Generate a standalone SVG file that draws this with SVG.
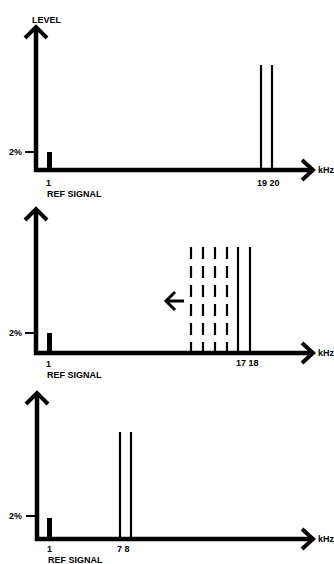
<svg xmlns="http://www.w3.org/2000/svg" width="334" height="564" viewBox="0 0 334 564">
<style>
.ax{stroke:#000;stroke-width:4.5;fill:none;stroke-linecap:butt}
.hd{stroke:#000;stroke-width:4;fill:none;stroke-linejoin:miter;stroke-linecap:butt}
.ln{stroke:#000;stroke-width:2.2;fill:none}
.dl{stroke:#000;stroke-width:2.2;fill:none;stroke-dasharray:12 7}
.tk{stroke:#000;stroke-width:2}
.bar{fill:#000}
text{font-family:"Liberation Sans",Arial,sans-serif;font-size:9px;font-weight:bold;fill:#000}
</style>
<rect width="334" height="564" fill="#fff"/>
<g id="connectors">
  <path class="ax" d="M36 172V28M34 170H313"/>
  <path class="hd" d="M25 38L36 27L47 38"/>
  <path class="hd" d="M302 160L313 170L302 180"/>
  <path class="ax" d="M36 355V210M34 353H313"/>
  <path class="hd" d="M25 220L36 209L47 220"/>
  <path class="hd" d="M302 343L313 353L302 363"/>
  <path class="ax" d="M37 541V394M35 539H313"/>
  <path class="hd" d="M26 404L37 393L48 404"/>
  <path class="hd" d="M302 529L313 539L302 549"/>
  <path class="hd" style="stroke-width:3" d="M175 292L166 301L175 310M166 301H184"/>
</g>
<g id="panel1">
  <text x="32" y="23">LEVEL</text>
  <text x="9" y="155">2%</text>
  <line class="tk" x1="25" y1="152" x2="35" y2="152"/>
  <rect class="bar" x="47" y="152" width="5" height="18"/>
  <text x="46" y="186">1</text>
  <text x="47" y="197">REF SIGNAL</text>
  <line class="ln" x1="261" y1="65" x2="261" y2="170"/>
  <line class="ln" x1="272" y1="65" x2="272" y2="170"/>
  <text x="257" y="186">19 20</text>
  <text x="318" y="173">kHz</text>
</g>
<g id="panel2">
  <text x="9" y="336">2%</text>
  <line class="tk" x1="25" y1="333" x2="35" y2="333"/>
  <rect class="bar" x="47" y="333" width="5" height="20"/>
  <text x="46" y="367">1</text>
  <text x="47" y="378">REF SIGNAL</text>
  <line class="dl" x1="191" y1="247" x2="191" y2="353"/>
  <line class="dl" x1="203" y1="247" x2="203" y2="353"/>
  <line class="dl" x1="215" y1="247" x2="215" y2="353"/>
  <line class="dl" x1="227" y1="247" x2="227" y2="353"/>
  <line class="ln" x1="238" y1="247" x2="238" y2="353"/>
  <line class="ln" x1="250" y1="247" x2="250" y2="353"/>
  <text x="236" y="366">17 18</text>
  <text x="318" y="356">kHz</text>
</g>
<g id="panel3">
  <text x="9" y="519">2%</text>
  <line class="tk" x1="26" y1="516" x2="36" y2="516"/>
  <rect class="bar" x="47" y="518" width="5" height="21"/>
  <text x="47" y="552">1</text>
  <text x="48" y="563">REF SIGNAL</text>
  <line class="ln" x1="120" y1="432" x2="120" y2="539"/>
  <line class="ln" x1="131" y1="432" x2="131" y2="539"/>
  <text x="117" y="552">7 8</text>
  <text x="318" y="542">kHz</text>
</g>
</svg>
